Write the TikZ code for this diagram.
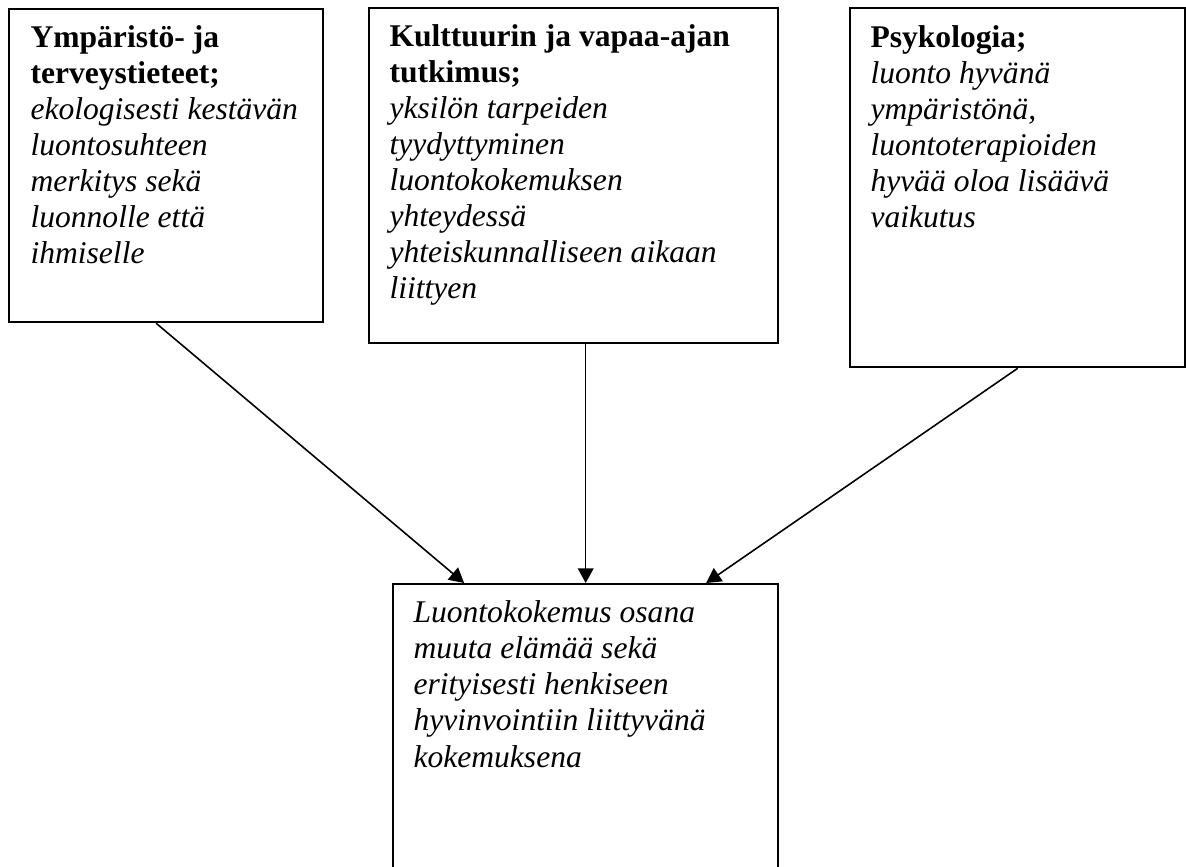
\documentclass[tikz,border=0pt]{standalone}
\usepackage{fontspec}
\setmainfont{Liberation Serif}
\usetikzlibrary{arrows.meta}

\begin{document}
\begin{tikzpicture}[x=0.38pt, y=-0.38pt,
    box/.style={draw, line width=0.9pt, anchor=north west, inner sep=0pt},
    boxtext/.style={anchor=base west, align=left, inner sep=0pt, font={\fontsize{12pt}{13.7pt}\selectfont}},
    arrow/.style={-{Triangle[length=5.6pt, width=6pt]}, line width=0.6pt}]
    \useasboundingbox (0,0) rectangle (1186,867);

    % Boxes
    \node[box, minimum width=119.3pt, minimum height=118.9pt] (ymp) at (8,8) {};
    \node[box, minimum width=155.4pt, minimum height=127.3pt] (kult) at (368,7) {};
    \node[box, minimum width=127.3pt, minimum height=136.4pt] (psyk) at (849,7) {};
    \node[box, minimum width=146.3pt, minimum height=120.5pt] (kokemus) at (392,583) {};

    % Texts (placed at the baseline of the last line)
    \node[boxtext] (ymptext) at (30,264) {\textbf{Ympäristö- ja}\\ \textbf{terveystieteet;}\\
        \textit{ekologisesti kestävän}\\ \textit{luontosuhteen}\\ \textit{merkitys sekä}\\
        \textit{luonnolle että}\\ \textit{ihmiselle}};
    \node[boxtext] (kulttext) at (389,299) {\textbf{Kulttuurin ja vapaa-ajan}\\ \textbf{tutkimus;}\\
        \textit{yksilön tarpeiden}\\ \textit{tyydyttyminen}\\ \textit{luontokokemuksen}\\
        \textit{yhteydessä}\\ \textit{yhteiskunnalliseen aikaan}\\ \textit{liittyen}};
    \node[boxtext] (psyktext) at (870,228) {\textbf{Psykologia;}\\ \textit{luonto hyvänä}\\
        \textit{ympäristönä,}\\ \textit{luontoterapioiden}\\ \textit{hyvää oloa lisäävä}\\
        \textit{vaikutus}};
    \node[boxtext] (kokemustext) at (413,767) {\textit{Luontokokemus osana}\\ \textit{muuta elämää sekä}\\
        \textit{erityisesti henkiseen}\\ \textit{hyvinvointiin liittyvänä}\\ \textit{kokemuksena}};

    % Arrows
    \draw[arrow] ([xshift=-3.8pt]ymp.south) -- ([xshift=-46.2pt]kokemus.north);
    \draw[arrow] (kokemus.north |- kult.south) -- (kokemus.north);
    \draw[arrow] (psyk.south) -- ([xshift=45.8pt]kokemus.north);
\end{tikzpicture}
\end{document}
